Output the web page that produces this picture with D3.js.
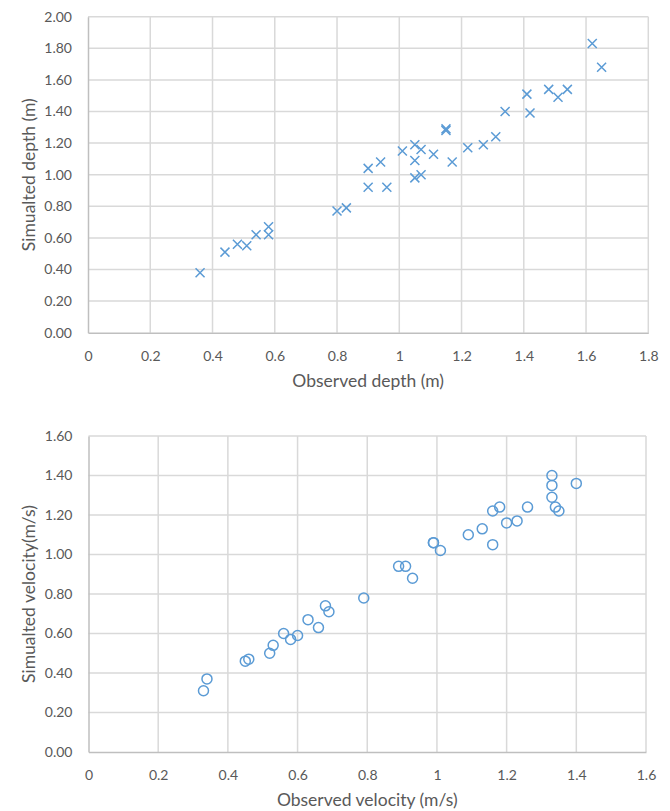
<!DOCTYPE html>
<html><head><meta charset="utf-8">
<script src="https://cdn.jsdelivr.net/npm/d3@7"></script>
<style>body{margin:0;background:#fff}svg text{font-family:Lato,"Open Sans",sans-serif;fill:#595959}</style>
</head><body><svg id="c" width="670" height="811"></svg>
<script>
// Depth (m)
const depthObserved = [0.36,0.44,0.48,0.51,0.54,0.58,0.58,0.80,0.83,0.90,0.94,0.90,0.96,1.01,1.05,1.07,1.05,1.11,1.05,1.07,1.17,1.15,1.15,1.22,1.27,1.31,1.34,1.41,1.42,1.48,1.51,1.54,1.62,1.65];
const depthSimulated = [0.38,0.51,0.56,0.55,0.62,0.67,0.62,0.77,0.79,1.04,1.08,0.92,0.92,1.15,1.19,1.16,1.09,1.13,0.98,1.00,1.08,1.29,1.28,1.17,1.19,1.24,1.40,1.51,1.39,1.54,1.49,1.54,1.83,1.68];
// Velocity (m/s)
const velObserved = [0.33,0.34,0.45,0.46,0.52,0.53,0.56,0.58,0.60,0.63,0.66,0.68,0.69,0.79,0.89,0.91,0.93,0.99,0.99,1.01,1.09,1.13,1.16,1.16,1.18,1.20,1.23,1.26,1.33,1.33,1.33,1.34,1.35,1.40];
const velSimulated = [0.31,0.37,0.46,0.47,0.50,0.54,0.60,0.57,0.59,0.67,0.63,0.74,0.71,0.78,0.94,0.94,0.88,1.06,1.06,1.02,1.10,1.13,1.05,1.22,1.24,1.16,1.17,1.24,1.40,1.35,1.29,1.24,1.22,1.36];
const depthXTicks = [0,0.2,0.4,0.6,0.8,1,1.2,1.4,1.6,1.8];
const depthYTicks = [0,0.2,0.4,0.6,0.8,1.0,1.2,1.4,1.6,1.8,2.0];
const velXTicks = [0,0.2,0.4,0.6,0.8,1,1.2,1.4,1.6];
const velYTicks = [0,0.2,0.4,0.6,0.8,1.0,1.2,1.4,1.6];

const svg = d3.select("#c");
const blue = "#5B9BD5";

function chart(cfg){
  const g = svg.append("g");
  const x = d3.scaleLinear().domain(cfg.xDom).range([cfg.left, cfg.right]);
  const y = d3.scaleLinear().domain(cfg.yDom).range([cfg.bottom, cfg.top]);
  g.selectAll(".vg").data(cfg.xTicks.slice(1)).join("line")
    .attr("x1",d=>x(d)).attr("x2",d=>x(d)).attr("y1",cfg.top).attr("y2",cfg.bottom)
    .attr("stroke","#D9D9D9").attr("stroke-width",1.5);
  g.selectAll(".hg").data(cfg.yTicks.slice(1)).join("line")
    .attr("x1",cfg.left).attr("x2",cfg.right).attr("y1",d=>y(d)).attr("y2",d=>y(d))
    .attr("stroke","#D9D9D9").attr("stroke-width",1.5);
  const xa = g.append("g").attr("transform",`translate(0,${cfg.bottom})`)
    .call(d3.axisBottom(x).tickValues(cfg.xTicks).tickSize(0).tickPadding(18).tickFormat(d3.format("")));
  const ya = g.append("g").attr("transform",`translate(${cfg.left},0)`)
    .call(d3.axisLeft(y).tickValues(cfg.yTicks).tickSize(0).tickPadding(16).tickFormat(d3.format(".2f")));
  [xa,ya].forEach(a=>{
    a.select(".domain").attr("stroke","#BFBFBF").attr("stroke-width",1.5);
    a.selectAll("text").attr("font-size",14).attr("fill","#595959").attr("font-family","Lato, sans-serif");
  });
  g.append("text").attr("x",(cfg.left+cfg.right)/2).attr("y",cfg.xTitleY)
    .attr("text-anchor","middle").attr("font-size",17.5).text(cfg.xTitle);
  g.append("text").attr("transform",`translate(${cfg.yTitleX},${(cfg.top+cfg.bottom)/2}) rotate(-90)`)
    .attr("text-anchor","middle").attr("font-size",17.5).text(cfg.yTitle);
  const pts = cfg.xs.map((v,i)=>[v,cfg.ys[i]]);
  if(cfg.marker==="x"){
    const s=4.5;
    g.selectAll(".m").data(pts).join("path")
      .attr("d",d=>{const cx=x(d[0]),cy=y(d[1]);return `M${cx-s},${cy-s}L${cx+s},${cy+s}M${cx-s},${cy+s}L${cx+s},${cy-s}`;})
      .attr("stroke",blue).attr("stroke-width",1.5).attr("fill","none");
  } else {
    g.selectAll(".m").data(pts).join("circle")
      .attr("cx",d=>x(d[0])).attr("cy",d=>y(d[1])).attr("r",5)
      .attr("stroke",blue).attr("stroke-width",1.5).attr("fill","none");
  }
}

chart({xDom:[0,1.8],yDom:[0,2],left:88,right:648.3,top:16.7,bottom:332.7,
  xTicks:depthXTicks,yTicks:depthYTicks,xs:depthObserved,ys:depthSimulated,marker:"x",
  xTitle:"Observed depth (m)",yTitle:"Simualted depth (m)",xTitleY:387,yTitleX:35});
chart({xDom:[0,1.6],yDom:[0,1.6],left:88.5,right:646,top:436,bottom:752,
  xTicks:velXTicks,yTicks:velYTicks,xs:velObserved,ys:velSimulated,marker:"o",
  xTitle:"Observed velocity (m/s)",yTitle:"Simualted velocity(m/s)",xTitleY:806,yTitleX:35});
</script></body></html>
